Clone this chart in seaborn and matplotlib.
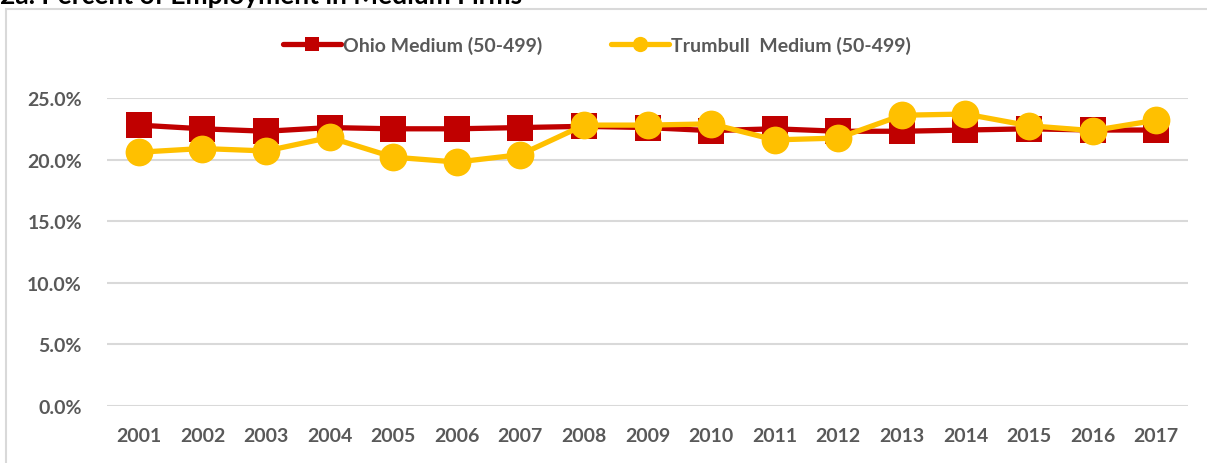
import matplotlib
matplotlib.use("Agg")
import matplotlib.pyplot as plt
import matplotlib.patches as mpatches
from matplotlib.ticker import PercentFormatter
import seaborn as sns
import pandas as pd

years = [str(y) for y in range(2001, 2018)]
ohio = [22.8, 22.5, 22.3, 22.6, 22.5, 22.5, 22.6, 22.7, 22.6, 22.35,
        22.5, 22.3, 22.3, 22.4, 22.5, 22.4, 22.4]
trumbull = [20.6, 20.9, 20.7, 21.8, 20.2, 19.8, 20.4, 22.8, 22.8, 22.9,
            21.6, 21.75, 23.6, 23.7, 22.75, 22.35, 23.2]
ohio_name = "Ohio Medium (50-499)"
trumbull_name = "Trumbull  Medium (50-499)"

sns.set_style("white")
plt.rcParams['font.family'] = ['Lato', 'DejaVu Sans']

df = pd.DataFrame({"year": years, "ohio": ohio, "trumbull": trumbull})

fig = plt.figure(figsize=(12.07, 4.64), dpi=100)
ax = fig.add_axes([107 / 1207, 1 - 407 / 464, (1188 - 107) / 1207, (407 - 99) / 464])

# chart border
fig.patches.append(mpatches.Rectangle((6 / 1207, -0.1), 1.2, 1 - 10 / 464 + 0.1,
                                      transform=fig.transFigure, fill=False,
                                      edgecolor="#D9D9D9", linewidth=1.5))

sns.lineplot(data=df, x="year", y="ohio", ax=ax, color="#C00000", linewidth=3.8,
             marker="s", markersize=19, markeredgewidth=0, label=ohio_name, sort=False)
sns.lineplot(data=df, x="year", y="trumbull", ax=ax, color="#FFC000", linewidth=3.8,
             marker="o", markersize=20, markeredgewidth=0, label=trumbull_name, sort=False)

ax.set_ylim(0, 25)
ax.set_xlim(-0.5, len(years) - 0.5)
ax.set_yticks([0, 5, 10, 15, 20, 25])
ax.yaxis.set_major_formatter(PercentFormatter(decimals=1))
ax.grid(axis="y", color="#D9D9D9", linewidth=1.5)
ax.set_axisbelow(True)
for s in ax.spines.values():
    s.set_visible(False)
ax.set_xlabel("")
ax.set_ylabel("")
ax.tick_params(axis="both", length=0, labelsize=14, labelcolor="#595959")
ax.tick_params(axis="x", pad=15)
ax.tick_params(axis="y", pad=18)
for lbl in ax.get_xticklabels() + ax.get_yticklabels():
    lbl.set_fontweight("bold")

leg = ax.legend(loc="center", bbox_to_anchor=(0.5 + (597 - 647.5) / 1081, (46 - 407) / -308),
                ncol=2, frameon=False, fontsize=14, handlelength=3.0, columnspacing=3.5,
                handletextpad=0.1, markerscale=0.55,
                prop={"weight": "bold", "size": 14})
for t in leg.get_texts():
    t.set_color("#595959")

fig.text(0.0, 1 - 4 / 464, "2a. Percent of Employment in Medium Firms",
         fontsize=19, fontweight="bold", color="black", va="baseline", ha="left")

fig.savefig("out.png", dpi=100)
